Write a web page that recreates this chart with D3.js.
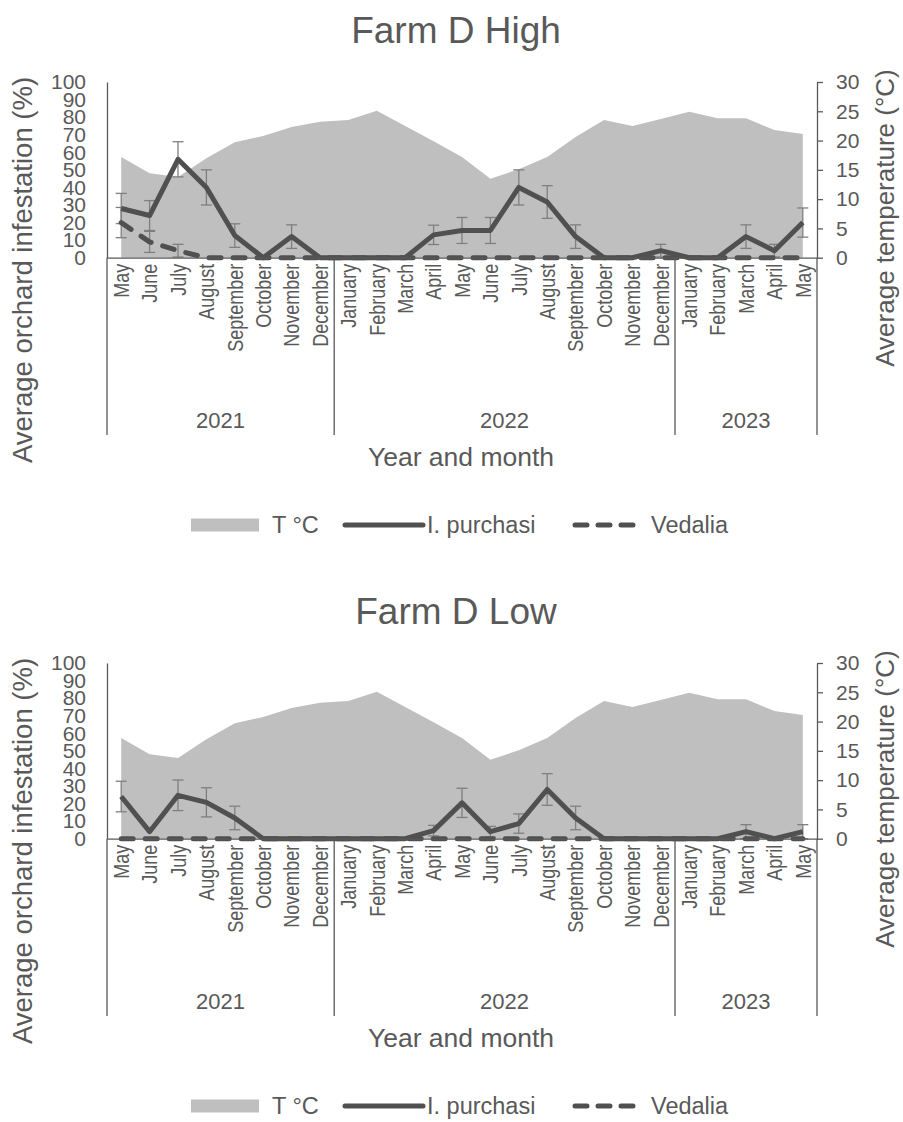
<!DOCTYPE html>
<html>
<head>
<meta charset="utf-8">
<script src="https://cdn.jsdelivr.net/npm/d3@7"></script>
<style>
  body { margin: 0; background: #fff; }
  svg text { font-family: "Liberation Sans", Arial, sans-serif; fill: #595959; }
</style>
</head>
<body>
<script>
// months from May 2021 to May 2023
const months = ["May", "June", "July", "August", "September", "October", "November", "December",
  "January", "February", "March", "April", "May", "June", "July", "August", "September", "October", "November", "December",
  "January", "February", "March", "April", "May"];
const years = ["2021", "2022", "2023"];
const yearCounts = [8, 12, 5];

// average temperature (same station for both blocks)
const tempC = [17.2, 14.4, 13.8, 17.0, 19.7, 20.8, 22.3, 23.2, 23.5, 25.1, 22.5, 19.9, 17.2,
  13.5, 15.1, 17.2, 20.6, 23.5, 22.5, 23.7, 24.9, 23.8, 23.8, 21.8, 21.1];

// Farm D High
const highPurchasi = [28, 24, 56, 40, 12.6, 0, 12, 0, 0, 0, 0, 13, 15.5, 15.5, 40, 31.7, 12, 0, 0, 4, 0, 0, 12, 4, 20];
const highPurchasiErr = [8.6, 8.5, 10, 10, 6.7, 0, 6.7, 0, 0, 0, 0, 5.5, 7.4, 7.4, 10, 9.3, 6.7, 0, 0, 3.6, 0, 0, 6.7, 3.6, 8.3];
const highVedalia = [20, 9, 4, 0, 0, 0, 0, 0, 0, 0, 0, 0, 0, 0, 0, 0, 0, 0, 0, 0, 0, 0, 0, 0, 0];
const highVedaliaErr = [8.6, 6, 3.6, 0, 0, 0, 0, 0, 0, 0, 0, 0, 0, 0, 0, 0, 0, 0, 0, 0, 0, 0, 0, 0, 0];

// Farm D Low
const lowPurchasi = [24, 4, 24.7, 20.7, 11.8, 0, 0, 0, 0, 0, 0, 4.6, 20.4, 4, 8.6, 28, 11.8, 0, 0, 0, 0, 0, 4, 0, 4];
const lowPurchasiErr = [8.7, 0, 8.7, 8.3, 6.7, 0, 0, 0, 0, 0, 0, 3, 8.3, 3, 5.5, 9, 6.7, 0, 0, 0, 0, 0, 4, 0, 4];
const lowVedalia = [0, 0, 0, 0, 0, 0, 0, 0, 0, 0, 0, 0, 0, 0, 0, 0, 0, 0, 0, 0, 0, 0, 0, 0, 0];
const lowVedaliaErr = [0, 0, 0, 0, 0, 0, 0, 0, 0, 0, 0, 0, 0, 0, 0, 0, 0, 0, 0, 0, 0, 0, 0, 0, 0];

const leftTicks = [0, 10, 20, 30, 40, 50, 60, 70, 80, 90, 100];
const rightTicks = [0, 5, 10, 15, 20, 25, 30];

const W = 903, H = 1122;
const axisCol = "#595959", lineCol = "#505050", areaCol = "#bfbfbf", errCol = "#7f7f7f";

const svg = d3.select("body").append("svg")
  .attr("width", W)
  .attr("height", H);

const x = d3.scaleBand().domain(d3.range(months.length)).range([107, 817]).padding(0);

function drawPanel(oy, title, purchasi, purchasiErr, vedalia, vedaliaErr) {
  const g = svg.append("g").attr("transform", `translate(0,${oy})`);
  const yL = d3.scaleLinear().domain([0, 100]).range([257.7, 82]);
  const yR = d3.scaleLinear().domain([0, 30]).range([257.7, 82]);
  const cx = i => x(i) + x.bandwidth() / 2;

  // title
  g.append("text")
    .attr("x", 456).attr("y", 43)
    .attr("text-anchor", "middle")
    .style("font-size", "37px")
    .text(title);

  // temperature area
  g.append("path")
    .datum(tempC)
    .attr("fill", areaCol)
    .attr("d", d3.area().x((d, i) => cx(i)).y0(yR(0)).y1(d => yR(d)));

  // error bars
  function errBars(vals, errs) {
    const idx = d3.range(vals.length).filter(i => errs[i] > 0);
    const eg = g.append("g").attr("stroke", errCol).attr("stroke-width", 1.3);
    eg.selectAll("line.v").data(idx).join("line")
      .attr("x1", cx).attr("x2", cx)
      .attr("y1", i => yL(vals[i] - errs[i])).attr("y2", i => yL(vals[i] + errs[i]));
    [-1, 1].forEach(s => {
      eg.selectAll(null).data(idx).join("line")
        .attr("x1", i => cx(i) - 5.5).attr("x2", i => cx(i) + 5.5)
        .attr("y1", i => yL(vals[i] + s * errs[i])).attr("y2", i => yL(vals[i] + s * errs[i]));
    });
  }
  errBars(vedalia, vedaliaErr);
  errBars(purchasi, purchasiErr);

  const line = d3.line().x((d, i) => cx(i)).y(d => yL(d));

  g.append("path").datum(vedalia)
    .attr("fill", "none").attr("stroke", lineCol).attr("stroke-width", 5)
    .attr("stroke-dasharray", "12 12").attr("stroke-linecap", "round")
    .attr("d", line);

  g.append("path").datum(purchasi)
    .attr("fill", "none").attr("stroke", lineCol).attr("stroke-width", 5)
    .attr("stroke-linejoin", "round")
    .attr("d", line);

  // left axis
  const ax = g.append("g").attr("transform", "translate(107,0)")
    .call(d3.axisLeft(yL).tickValues(leftTicks).tickSize(0).tickPadding(21));
  ax.select(".domain").attr("stroke", axisCol).attr("stroke-width", 1.3);
  ax.selectAll("text").style("font-size", "21px").attr("fill", axisCol);

  // right axis
  const ar = g.append("g").attr("transform", "translate(817,0)")
    .call(d3.axisRight(yR).tickValues(rightTicks).tickSize(6).tickSizeOuter(0).tickPadding(13));
  ar.select(".domain").attr("stroke", axisCol).attr("stroke-width", 1.3);
  ar.selectAll(".tick line").attr("stroke", axisCol).attr("stroke-width", 1.3);
  ar.selectAll("text").style("font-size", "21px").attr("fill", axisCol);

  // bottom axis with month labels
  const ab = g.append("g").attr("transform", `translate(0,${yL(0)})`)
    .call(d3.axisBottom(x).tickSize(0).tickSizeOuter(0).tickFormat(i => months[i]));
  ab.select(".domain").attr("stroke", axisCol).attr("stroke-width", 1.3);
  ab.selectAll("text")
    .attr("transform", "rotate(-90) scale(1,1.2)")
    .attr("x", -6).attr("y", 0).attr("dy", "0.36em")
    .style("text-anchor", "end")
    .style("font-size", "18px")
    .attr("fill", axisCol);

  // year separators and labels
  let start = 0;
  const bounds = [0];
  yearCounts.forEach(c => { start += c; bounds.push(start); });
  const edge = k => k < months.length ? x(k) : x.range()[1];
  g.append("g").selectAll("line").data(bounds).join("line")
    .attr("x1", edge).attr("x2", edge)
    .attr("y1", yL(0)).attr("y2", 435)
    .attr("stroke", axisCol).attr("stroke-width", 1.3);
  g.append("g").selectAll("text").data(years).join("text")
    .attr("x", (d, i) => (edge(bounds[i]) + edge(bounds[i + 1])) / 2)
    .attr("y", 428)
    .attr("text-anchor", "middle")
    .style("font-size", "22px")
    .text(d => d);

  // axis titles
  g.append("text")
    .attr("x", 461).attr("y", 466)
    .attr("text-anchor", "middle")
    .style("font-size", "26.5px")
    .text("Year and month");
  g.append("text")
    .attr("transform", "translate(22,270) rotate(-90)")
    .attr("text-anchor", "middle").attr("dominant-baseline", "central")
    .style("font-size", "27.5px")
    .text("Average orchard infestation (%)");
  g.append("text")
    .attr("transform", "translate(885,218) rotate(-90)")
    .attr("text-anchor", "middle").attr("dominant-baseline", "central")
    .style("font-size", "26px")
    .text("Average temperature (°C)");

  // legend
  const lg = g.append("g").attr("transform", "translate(0,525)");
  lg.append("rect").attr("x", 191).attr("y", -6.5).attr("width", 68).attr("height", 13).attr("fill", areaCol);
  lg.append("text").attr("x", 272).attr("y", 0).attr("dy", "0.35em").style("font-size", "23.5px").text("T °C");
  lg.append("line").attr("x1", 345).attr("x2", 423).attr("y1", 0).attr("y2", 0)
    .attr("stroke", lineCol).attr("stroke-width", 5).attr("stroke-linecap", "round");
  lg.append("text").attr("x", 427).attr("y", 0).attr("dy", "0.35em").style("font-size", "23.5px").text("I. purchasi");
  lg.append("line").attr("x1", 575).attr("x2", 635).attr("y1", 0).attr("y2", 0)
    .attr("stroke", lineCol).attr("stroke-width", 5).attr("stroke-linecap", "round")
    .attr("stroke-dasharray", "12 11");
  lg.append("text").attr("x", 651).attr("y", 0).attr("dy", "0.35em").style("font-size", "23.5px").text("Vedalia");
}

drawPanel(0, "Farm D High", highPurchasi, highPurchasiErr, highVedalia, highVedaliaErr);
drawPanel(581, "Farm D Low", lowPurchasi, lowPurchasiErr, lowVedalia, lowVedaliaErr);
</script>
</body>
</html>
